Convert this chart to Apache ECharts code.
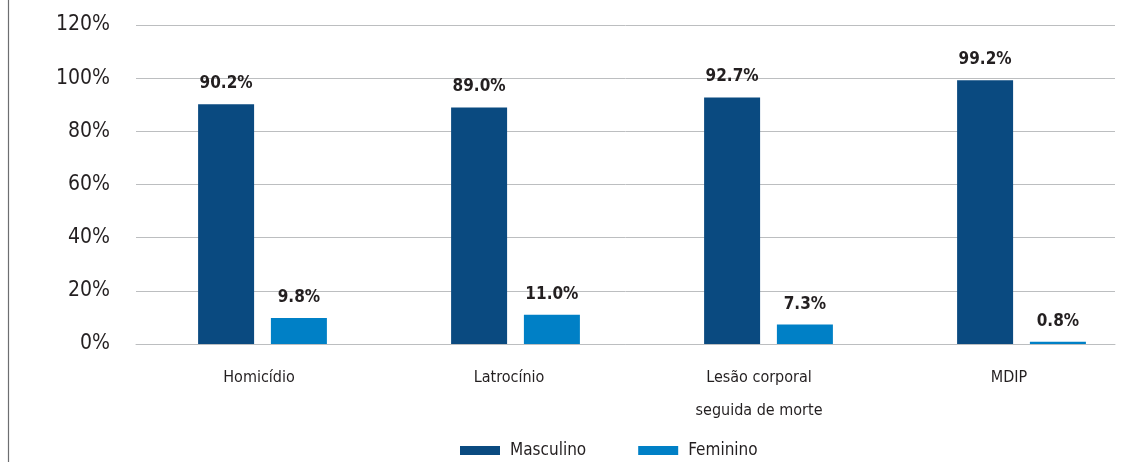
<!DOCTYPE html>
<html><head><meta charset="utf-8">
<script src="https://cdn.jsdelivr.net/npm/echarts@6/dist/echarts.min.js"></script>
<style>html,body{margin:0;padding:0;background:#fff}#c{width:1124px;height:462px}</style>
</head><body><div id="c"></div>
<script>
const categories = ['Homicídio', 'Latrocínio', 'Lesão corporal\nseguida de morte', 'MDIP'];
const masculino = [90.2, 89.0, 92.7, 99.2];
const feminino = [9.8, 11.0, 7.3, 0.8];
const yTicks = [0, 20, 40, 60, 80, 100, 120];

const FONT = "'Liberation Sans Narrow', 'DejaVu Sans Condensed', sans-serif";
const chart = echarts.init(document.getElementById('c'));
const lbl = {
  show: true, position: 'top', distance: 12,
  formatter: p => p.value.toFixed(1) + '%',
  fontFamily: FONT, fontWeight: 'bold', fontSize: 17, color: '#231f20'
};
const yMin = yTicks[0], yMax = yTicks[yTicks.length - 1];
chart.setOption({
  animation: false,
  textStyle: { fontFamily: FONT },
  grid: [
    { left: 136, right: 9, top: 25, bottom: 118, outerBoundsMode: 'none' },
    { left: 136, width: 1012, top: 25, bottom: 118, outerBoundsMode: 'none' },
    { left: 134, width: 1000, top: 25, bottom: 118, outerBoundsMode: 'none' }
  ],
  graphic: [{ type: 'line', shape: { x1: 8.5, y1: 0, x2: 8.5, y2: 462 }, style: { stroke: '#6d6e71', lineWidth: 1.2 } }],
  legend: {
    left: 455, top: 437, itemWidth: 40, itemHeight: 9, itemGap: 52, icon: 'rect',
    textStyle: { fontFamily: FONT, fontSize: 17, color: '#231f20', padding: [0, 0, 0, 5] },
    data: ['Masculino', 'Feminino']
  },
  xAxis: [
    { gridIndex: 0, type: 'category', data: categories,
      axisLine: { lineStyle: { color: '#bcbec0', width: 1 } },
      axisTick: { show: false }, axisLabel: { show: false } },
    { gridIndex: 1, type: 'category', data: categories, show: false },
    { gridIndex: 2, type: 'category', data: categories,
      axisLine: { show: false }, axisTick: { show: false },
      axisLabel: { margin: 17, fontFamily: FONT, fontSize: 16, color: '#231f20', lineHeight: 33 } }
  ],
  yAxis: [
    { gridIndex: 0, type: 'value', min: yMin, max: yMax, interval: 20,
      axisLine: { show: false }, axisTick: { show: false },
      splitLine: { lineStyle: { color: '#bcbec0', width: 1 } },
      axisLabel: { margin: 26, fontFamily: FONT, fontSize: 21, color: '#231f20', formatter: '{value}%' } },
    { gridIndex: 1, type: 'value', min: yMin, max: yMax, interval: 20, show: false },
    { gridIndex: 2, type: 'value', min: yMin, max: yMax, interval: 20, show: false }
  ],
  series: [
    { name: 'Masculino', type: 'bar', xAxisIndex: 1, yAxisIndex: 1, data: masculino, barWidth: 56, barGap: '30%',
      itemStyle: { color: '#0a4a80' }, label: lbl },
    { name: 'Feminino', type: 'bar', xAxisIndex: 1, yAxisIndex: 1, data: feminino, barWidth: 56,
      itemStyle: { color: '#0080c6' }, label: lbl }
  ]
});
</script></body></html>
